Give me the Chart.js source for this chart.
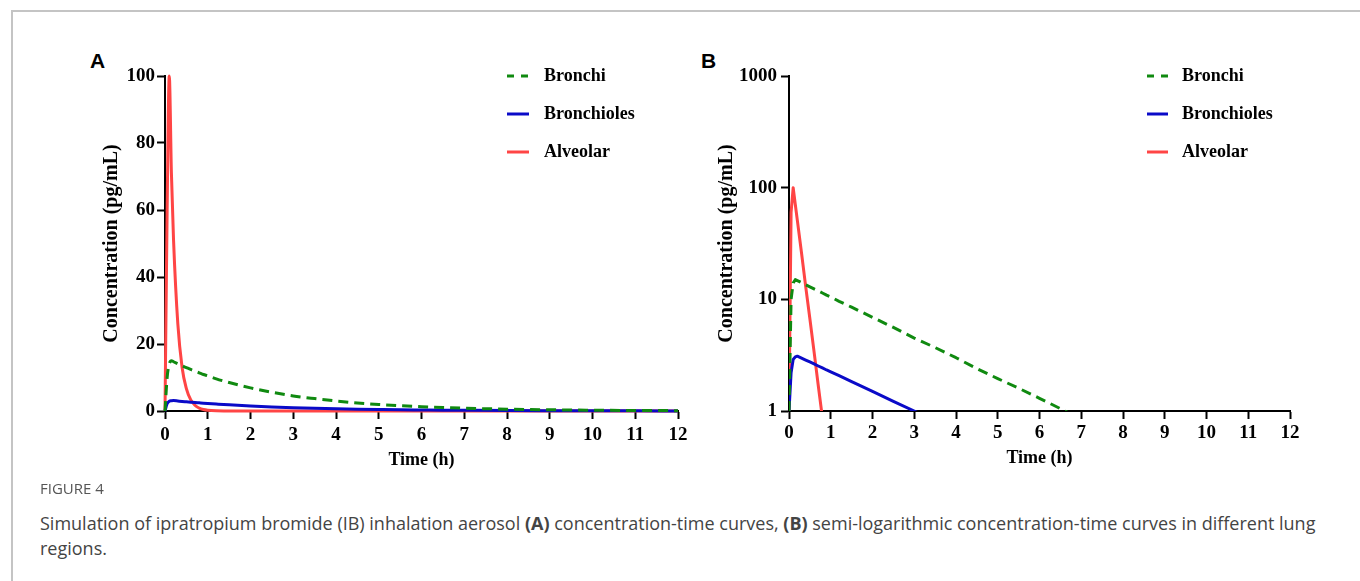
<!DOCTYPE html>
<html>
<head>
<meta charset="utf-8">
<script src="https://cdn.jsdelivr.net/npm/chart.js@4"></script>
<style>
  body { margin: 0; background: #fff; width: 1360px; height: 581px; overflow: hidden; position: relative; }
  .frame { position: absolute; left: 11px; top: 10px; width: 1400px; height: 600px; border: 2px solid #c4c4c4; }
  .panel-letter { position: absolute; font: bold 21px "Liberation Sans", Arial, sans-serif; line-height: 1; color: #000; }
  canvas { position: absolute; }
  .fig-label { position: absolute; left: 40px; top: 478px; font: 15px "Open Sans", sans-serif; color: #555; }
  .caption { position: absolute; left: 40px; top: 511px; font: 18px "Open Sans", sans-serif; color: #444; line-height: 25px; white-space: nowrap; }
</style>
</head>
<body>
<div class="frame"></div>
<div class="panel-letter" style="left:90px; top:50px;">A</div>
<div class="panel-letter" style="left:701px; top:50px;">B</div>
<canvas id="chartA" width="625" height="440" style="left:95px; top:40px;"></canvas>
<canvas id="chartB" width="623" height="440" style="left:712px; top:40px;"></canvas>
<div class="fig-label">FIGURE 4</div>
<div class="caption">Simulation of ipratropium bromide (IB) inhalation aerosol <b>(A)</b> concentration-time curves, <b>(B)</b> semi-logarithmic concentration-time curves in different lung<br>regions.</div>

<script>
// ---------- Data ----------
const timeH = [0, 0.05, 0.1, 0.15, 0.2, 0.3, 0.4, 0.5, 0.6, 0.7, 0.8, 0.9, 1, 1.2, 1.5, 2, 2.5, 3, 3.5, 4, 4.5, 5, 5.5, 6, 6.5, 7, 8, 9, 10, 11, 12];
const bronchi = [0, 10, 14, 15, 14.7, 14.1, 13.5, 12.95, 12.4, 11.9, 11.4, 10.9, 10.5, 9.6, 8.5, 6.9, 5.6, 4.5, 3.7, 3.0, 2.4, 1.95, 1.6, 1.3, 1.05, 0.84, 0.55, 0.36, 0.24, 0.16, 0.10];
const bronchioles = [0, 2.2, 2.9, 3.05, 3.1, 2.98, 2.86, 2.75, 2.64, 2.53, 2.43, 2.33, 2.24, 2.07, 1.83, 1.50, 1.22, 1.00, 0.82, 0.67, 0.55, 0.45, 0.36, 0.30, 0.24, 0.20, 0.13, 0.09, 0.06, 0.04, 0.03];
const alveolar = [0, 60, 100, 71, 51, 26, 13, 6.7, 3.4, 1.7, 0.87, 0.44, 0.23, 0.06, 0.008, 0, 0, 0, 0, 0, 0, 0, 0, 0, 0, 0, 0, 0, 0, 0, 0];

const seriesNames = ["Bronchi", "Bronchioles", "Alveolar"];
const seriesColors = ["#108a10", "#0a0ac8", "#ff4545"];
const xTicks = [0, 1, 2, 3, 4, 5, 6, 7, 8, 9, 10, 11, 12];
const yTicksA = [0, 20, 40, 60, 80, 100];
const yTicksB = [1, 10, 100, 1000];

const SERIF = "'Liberation Serif', 'Times New Roman', serif";

// ---------- Legend drawn in the top right of each plot ----------
const sideLegend = {
  id: "sideLegend",
  afterDraw(chart, args, opts) {
    const ctx = chart.ctx;
    ctx.save();
    chart.data.datasets.forEach((ds, i) => {
      let y = opts.top + i * opts.gap;
      ctx.strokeStyle = ds.borderColor;
      ctx.lineWidth = 3;
      ctx.setLineDash(ds.borderDash ? [7, 7] : []);
      ctx.beginPath();
      ctx.moveTo(opts.left, y);
      ctx.lineTo(opts.left + opts.len, y);
      ctx.stroke();
      ctx.setLineDash([]);
      ctx.fillStyle = "#000";
      ctx.font = "bold 18px " + SERIF;
      ctx.textBaseline = "middle";
      ctx.fillText(ds.label, opts.left + opts.len + opts.textGap, y);
    });
    ctx.restore();
  }
};

function makeDatasets(logScale) {
  return [bronchi, bronchioles, alveolar].map((vals, i) => {
    let pts = timeH.map((t, j) => ({ x: t, y: vals[j] }));
    if (logScale) {
      // log axis: start each curve on the axis floor, drop the zero tail
      pts = pts.filter((p, j) => j === 0 || p.y > 0);
      pts[0] = { x: pts[0].x, y: yTicksB[0] };
    }
    return {
      label: seriesNames[i],
      data: pts,
      borderColor: seriesColors[i],
      borderWidth: 3,
      borderDash: i === 0 ? [10, 6] : undefined,
      borderJoinStyle: "round",
      pointRadius: 0,
      fill: false,
      cubicInterpolationMode: logScale ? "default" : "monotone",
      tension: 0,
      clip: logScale ? 0 : 5
    };
  });
}

function axisCommon() {
  return {
    border: { display: true, color: "#000", width: 2 },
    grid: { display: true, drawOnChartArea: false, drawTicks: true, tickLength: 8, tickWidth: 2, color: "#000" }
  };
}

function buildChart(id, logScale, cfg) {
  let ctx = document.getElementById(id).getContext("2d");
  return new Chart(ctx, {
    type: "line",
    data: { datasets: makeDatasets(logScale) },
    options: {
      responsive: false,
      animation: false,
      layout: { padding: { left: 0, top: 36, right: cfg.rightPad, bottom: 0 } },
      plugins: {
        legend: { display: false },
        tooltip: { enabled: false },
        sideLegend: cfg.legend
      },
      scales: {
        x: Object.assign(axisCommon(), {
          type: "linear",
          min: 0,
          max: 12,
          afterBuildTicks: s => { s.ticks = xTicks.map(v => ({ value: v })); },
          afterFit: s => { s.height = 69; },
          ticks: { color: "#000", font: { family: SERIF, weight: "bold", size: 19 }, padding: cfg.xTickPad, maxRotation: 0, autoSkip: false },
          title: { display: true, text: "Time (h)", color: "#000", font: { family: SERIF, weight: "bold", size: 18 }, padding: { top: 0, bottom: cfg.xTitlePad } }
        }),
        y: Object.assign(axisCommon(), {
          type: logScale ? "logarithmic" : "linear",
          min: logScale ? 1 : 0,
          max: logScale ? 1000 : 100,
          afterBuildTicks: s => { s.ticks = (logScale ? yTicksB : yTicksA).map(v => ({ value: v })); },
          afterFit: s => { s.width = cfg.yWidth; },
          ticks: { color: "#000", font: { family: SERIF, weight: "bold", size: 19 }, padding: cfg.yTickPad, callback: v => String(v) },
          title: { display: true, text: "Concentration (pg/mL)", color: "#000", font: { family: SERIF, weight: "bold", size: 20 }, padding: { top: cfg.yTitlePad, bottom: 0 } }
        })
      }
    },
    plugins: [sideLegend]
  });
}

// ---------- Panel A (linear) ----------
buildChart("chartA", false, {
  rightPad: 42, yWidth: 70, xTickPad: 5, yTickPad: 2, xTitlePad: 9, yTitlePad: 5,
  legend: { left: 412, top: 36, gap: 38, len: 22, textGap: 15 }
});

// ---------- Panel B (semi-log) ----------
buildChart("chartB", true, {
  rightPad: 45, yWidth: 77, xTickPad: 3, yTickPad: 4, xTitlePad: 11, yTitlePad: 3,
  legend: { left: 435, top: 36, gap: 38, len: 21, textGap: 14 }
});
</script>
</body>
</html>
